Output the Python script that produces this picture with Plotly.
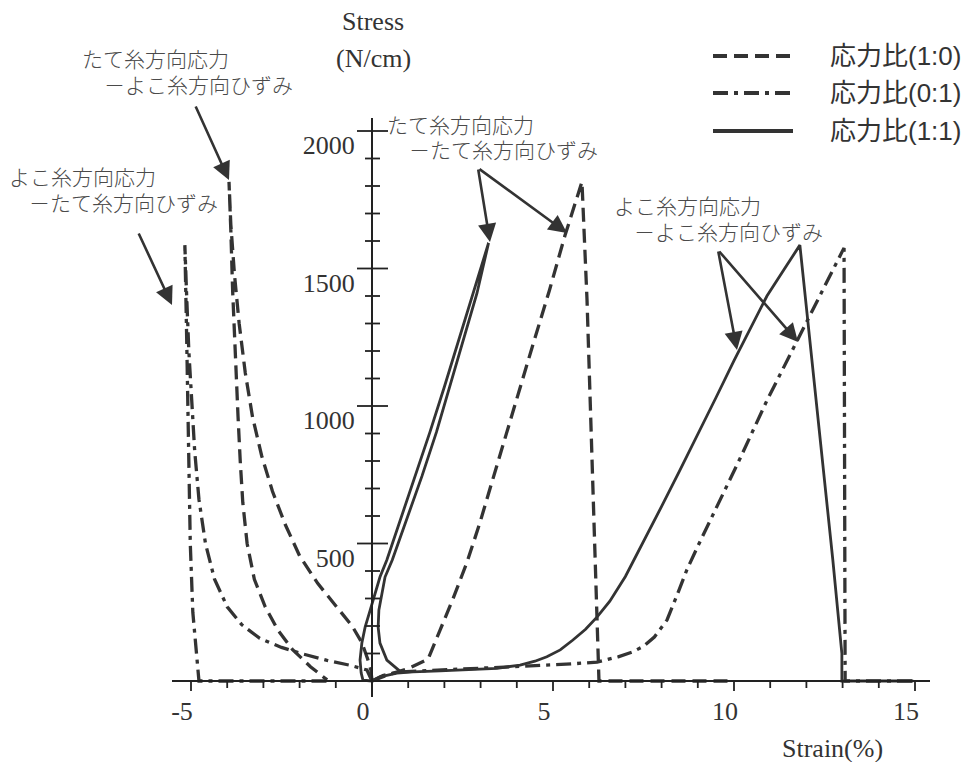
import plotly.graph_objects as go

# ---------------------------------------------------------------- data
ratio_names = ["応力比(1:0)", "応力比(0:1)", "応力比(1:1)"]

# 応力比(1:0) : warp-direction stress vs warp strain (rise, fracture drop, run-out)
r10_warp_strain = [0, 0.5, 1.0, 1.55, 1.88, 2.24, 2.62, 2.98, 3.34, 3.62, 4.0, 4.45,
                   4.9, 5.33, 5.8, 5.94, 6.27, 9.9]
r10_warp_stress = [0, 25, 45, 80, 185, 300, 430, 575, 735, 860, 1030, 1225,
                   1420, 1620, 1815, 1385, 0, 0]
# 応力比(1:0) : warp-direction stress vs weft strain (contraction, then release)
r10_weft_strain = [0, -0.03, -0.12, -0.28, -0.55, -0.97, -1.5, -2.0, -2.4, -2.75,
                   -3.05, -3.3, -3.5, -3.67, -3.8, -3.9, -3.95,
                   -3.9, -3.85, -3.78, -3.7, -3.64, -3.57, -3.45, -3.25, -2.95,
                   -2.6, -2.2, -1.7, -1.24]
r10_weft_stress = [0, 40, 80, 140, 200, 270, 355, 455, 570, 690,
                   820, 960, 1120, 1300, 1480, 1660, 1815,
                   1640, 1420, 1180, 960, 800, 650, 500, 370, 270,
                   185, 115, 52, 4]

# 応力比(0:1) : weft-direction stress vs weft strain
r01_weft_strain = [0, 0.3, 0.77, 2.0, 3.5, 4.5, 5.5, 6.22, 6.8, 7.2, 7.5, 7.8, 8.15,
                   8.45, 8.7, 9.0, 9.42, 10.17, 10.91, 11.74, 12.4, 13.04, 13.07, 14.95]
r01_weft_stress = [0, 20, 33, 40, 48, 55, 62, 69, 88, 106, 126, 160, 222,
                   320, 405, 490, 605, 810, 1020, 1235, 1410, 1575, 0, 0]
# 応力比(0:1) : weft-direction stress vs warp strain
r01_warp_strain = [0, -0.14, -0.6, -1.24, -1.9, -2.5, -3.1, -3.6, -4.0, -4.35,
                   -4.6, -4.78, -4.9, -4.98, -5.06, -5.12, -5.17,
                   -5.12, -5.08, -5.06, -5.02, -4.95, -4.85, -4.78, -1.1]
r01_warp_stress = [0, 40, 57, 75, 98, 122, 155, 205, 270, 370,
                   500, 660, 840, 1000, 1200, 1400, 1585,
                   1250, 1000, 800, 500, 250, 80, 0, 0]

# 応力比(1:1) : warp stress vs warp strain (loading branch and return branch)
r11_warp_strain = [0, -0.25, -0.3, -0.33, -0.28, -0.19, -0.05, 0.08, 0.22, 0.41,
                   0.8, 1.2, 1.6, 2.0, 2.4, 2.8, 3.22,
                   2.9, 2.53, 2.16, 1.78, 1.38, 0.97, 0.56,
                   0.36, 0.28, 0.19, 0.17, 0.22, 0.41, 0.77]
r11_warp_stress = [0, 3, 30, 76, 138, 196, 258, 320, 378, 440,
                   590, 745, 905, 1070, 1240, 1410, 1593,
                   1410, 1240, 1070, 905, 745, 590, 440,
                   378, 320, 258, 196, 138, 76, 36]
# 応力比(1:1) : weft stress vs weft strain
r11_weft_strain = [0, 0.22, 0.69, 1.13, 1.88, 2.6, 3.45, 4.09, 4.5, 4.83, 5.2, 5.55,
                   5.9, 6.22, 6.57, 7.0, 7.5, 8.0, 8.5, 9.0, 9.5, 10.0, 10.5, 10.91,
                   11.4, 11.82, 12.73, 12.98, 12.98, 14.95]
r11_weft_stress = [0, 15, 29, 33, 37, 40, 46, 58, 72, 88, 113, 149,
                   188, 233, 290, 380, 505, 635, 765, 895, 1030, 1165, 1295, 1400,
                   1500, 1585, 440, 100, 0, 0]

x_major_step, x_minor_step = 5, 1
y_major_step, y_minor_step = 500, 100
x_tick_first, x_tick_last = -5, 15
y_tick_first, y_tick_last = 100, 2000
# label replacements: plain hyphen for negative strain, no label at the origin of the stress axis
x_label_alias = {"\u22125": "-5"}
y_label_alias = {"0": ""}

# ---------------------------------------------------------------- layout constants
W, H = 965, 762
INK = "#333333"
AXIS = "#222222"
CLEAR = "rgba(0,0,0,0)"
SERIF = "Liberation Serif, Times New Roman, serif"
JP = "Liberation Sans, Noto Sans CJK JP, sans-serif"

# pixel frame of the crossing axes
ORIGIN_PX = (372, 681)
PX_PER_STRAIN = 36.2
PX_PER_STRESS = 0.275
X_LEFT_PX, X_RIGHT_PX = 172, 930
Y_TOP_PX, Y_BOT_PX = 118, 697

x_range = [(X_LEFT_PX - ORIGIN_PX[0]) / PX_PER_STRAIN, (X_RIGHT_PX - ORIGIN_PX[0]) / PX_PER_STRAIN]
y_range = [(ORIGIN_PX[1] - Y_BOT_PX) / PX_PER_STRESS, (ORIGIN_PX[1] - Y_TOP_PX) / PX_PER_STRESS]


def paper(px, py):
    return px / W, 1 - py / H


styles = {
    ratio_names[0]: dict(dash="14px,7px", width=3.3),
    ratio_names[1]: dict(dash="15px,6px,4px,6px", width=3.3),
    ratio_names[2]: dict(dash="solid", width=2.8),
}

curves = [
    (ratio_names[0], r10_warp_strain, r10_warp_stress),
    (ratio_names[0], r10_weft_strain, r10_weft_stress),
    (ratio_names[1], r01_weft_strain, r01_weft_stress),
    (ratio_names[1], r01_warp_strain, r01_warp_stress),
    (ratio_names[2], r11_warp_strain, r11_warp_stress),
    (ratio_names[2], r11_weft_strain, r11_weft_stress),
]

fig = go.Figure()
for name, xs, ys in curves:
    st = styles[name]
    fig.add_trace(go.Scatter(
        x=xs, y=ys, mode="lines", name=name, showlegend=False,
        line=dict(color=INK, width=st["width"], dash=st["dash"]),
        hoverinfo="skip",
    ))

# axes cross at the origin; the axes' own ticks are transparent and only
# reserve the label spacing, the visible tick marks are shapes
fig.update_layout(
    width=W, height=H,
    margin=dict(l=0, r=0, t=0, b=0),
    paper_bgcolor="white", plot_bgcolor="white",
    xaxis=dict(
        domain=[X_LEFT_PX / W, X_RIGHT_PX / W], range=x_range,
        anchor="free", position=1 - ORIGIN_PX[1] / H,
        showline=True, linecolor=AXIS, linewidth=2,
        showgrid=False, zeroline=False,
        tickmode="linear", tick0=0, dtick=x_major_step, labelalias=x_label_alias,
        ticks="outside", ticklen=10, tickwidth=2, tickcolor=CLEAR,
        tickfont=dict(family=SERIF, size=26, color="#333"),
        ticklabelshift=-9, ticklabelstandoff=-3,
    ),
    yaxis=dict(
        domain=[1 - Y_BOT_PX / H, 1 - Y_TOP_PX / H], range=y_range,
        anchor="free", position=ORIGIN_PX[0] / W, side="left",
        showline=True, linecolor=AXIS, linewidth=2,
        showgrid=False, zeroline=False,
        tickmode="linear", tick0=0, dtick=y_major_step, labelalias=y_label_alias,
        ticks="outside", ticklen=15, tickwidth=2, tickcolor=CLEAR,
        tickfont=dict(family=SERIF, size=26, color="#333"),
        ticklabelshift=14, ticklabelstandoff=-4,
    ),
)

shapes = []

# strain-axis ticks: placed on the strain scale, hanging below the axis line
axis_y = 1 - ORIGIN_PX[1] / H
for v in range(x_tick_first, x_tick_last + 1, x_minor_step):
    length_px = 10 if v % x_major_step == 0 else 7
    shapes.append(dict(type="line", xref="x", yref="paper",
                       x0=v, x1=v, y0=axis_y, y1=axis_y - length_px / H,
                       line=dict(color=AXIS, width=1.8)))

# stress-axis ticks: placed on the stress scale, crossing the axis line
axis_x = ORIGIN_PX[0] / W
for v in range(y_tick_first, y_tick_last + 1, y_minor_step):
    left, right = (15, 16) if v % y_major_step == 0 else (7, 8)
    shapes.append(dict(type="line", xref="paper", yref="y",
                       x0=axis_x - left / W, x1=axis_x + right / W, y0=v, y1=v,
                       line=dict(color=AXIS, width=1.8)))

annotations = []

# axis titles
for text, (px, py) in [("Stress", (373, 22)), ("(N/cm)", (373, 58)), ("Strain(%)", (832, 748))]:
    x, y = paper(px, py)
    annotations.append(dict(x=x, y=y, xref="paper", yref="paper", text=text, showarrow=False,
                            xanchor="center", yanchor="middle",
                            font=dict(family=SERIF, size=26, color="#333")))

# curve labels (two lines each)
labels = [
    ("たて糸方向応力", (80, 60)), ("－よこ糸方向ひずみ", (102, 86)),
    ("よこ糸方向応力", (7, 178)), ("－たて糸方向ひずみ", (27, 203)),
    ("たて糸方向応力", (385, 125)), ("－たて糸方向ひずみ", (407, 150)),
    ("よこ糸方向応力", (612, 207)), ("－よこ糸方向ひずみ", (632, 233)),
]
for text, (px, py) in labels:
    x, y = paper(px, py)
    annotations.append(dict(x=x, y=y, xref="paper", yref="paper", text=text, showarrow=False,
                            xanchor="left", yanchor="middle",
                            font=dict(family=JP, size=21, color="#4a4a4a", weight=300)))

# pointer arrows: (tail px, tip px)
arrows = [
    ((195, 105), (229, 180)),
    ((138, 232), (172, 305)),
    ((478, 168), (490, 242)),
    ((478, 168), (567, 233)),
    ((718, 250), (737, 350)),
    ((718, 250), (798, 342)),
]
for (tx, ty), (hx, hy) in arrows:
    x, y = paper(hx, hy)
    annotations.append(dict(x=x, y=y, xref="paper", yref="paper", text="",
                            showarrow=True, ax=tx - hx, ay=ty - hy,
                            arrowhead=2, arrowsize=1.4, arrowwidth=2.6,
                            arrowcolor=INK, standoff=0))

# legend key
legend_rows = [56, 93, 131]
for name, py in zip(ratio_names, legend_rows):
    st = styles[name]
    x0, y0 = paper(713, py)
    x1, _ = paper(793, py)
    shapes.append(dict(type="line", xref="paper", yref="paper", x0=x0, x1=x1, y0=y0, y1=y0,
                       line=dict(color=INK, width=3.8, dash=st["dash"])))
    tx, ty = paper(828, py)
    annotations.append(dict(x=tx, y=ty, xref="paper", yref="paper", text=name, showarrow=False,
                            xanchor="left", yanchor="middle",
                            font=dict(family=JP, size=26, color="#333")))

fig.update_layout(annotations=annotations, shapes=shapes)

fig.write_html("out.html")
